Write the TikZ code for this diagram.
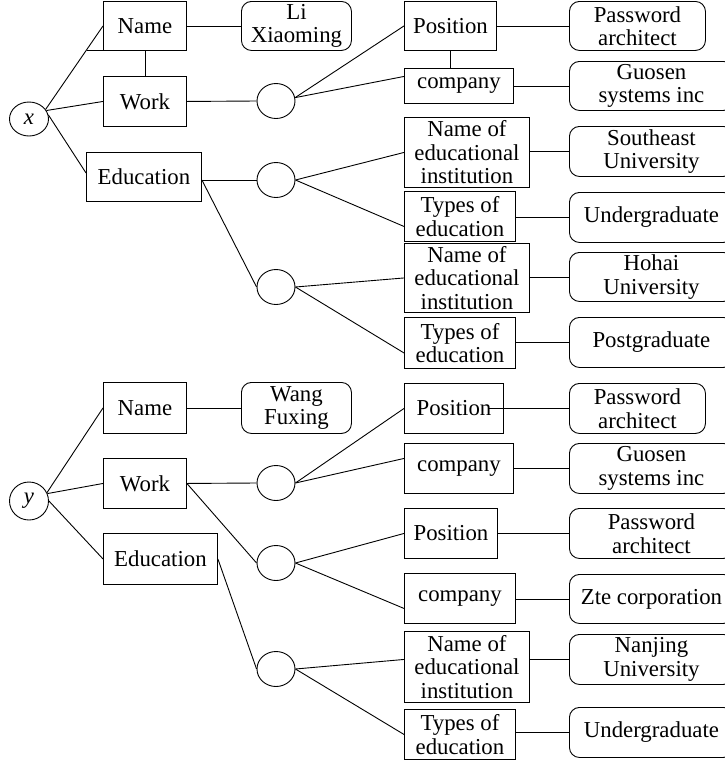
\documentclass[tikz,border=0pt]{standalone}
\usepackage{fontspec}
\setmainfont{Liberation Serif}
\usetikzlibrary{shapes.geometric,calc}
\tikzset{
 base/.style={draw, line width=0.9pt, inner sep=0pt, align=center, anchor=north west, font=\fontsize{22.8}{23.5}\selectfont},
 rbox/.style={base},
 vbox/.style={base, rounded corners=10pt},
 cnode/.style={draw, ellipse, line width=0.9pt, inner sep=0pt, minimum width=38pt, minimum height=35pt, font=\fontsize{22.8}{23.5}\selectfont\itshape},
 ln/.style={line width=0.9pt}
}
\begin{document}
\begin{tikzpicture}[x=1pt,y=-1pt]
\useasboundingbox (0,0) rectangle (725,764);
% ---------- top tree ----------
\node[cnode, minimum width=39pt, minimum height=34pt] (xc) at (29,119) {x};
\node[rbox, minimum width=83pt, minimum height=49pt] (nm1) at (103,1) {Name};
\node[vbox, minimum width=110pt, minimum height=49pt] (lix) at (241,1) {Li\\Xiaoming};
\node[rbox, minimum width=83pt, minimum height=50pt] (wk1) at (103,76) {Work};
\node[rbox, minimum width=115pt, minimum height=49pt] (ed1) at (86,152) {Education};
\node[cnode] (c1) at (276,101) {};
\node[cnode] (c2) at (276,180) {};
\node[cnode] (c3) at (276,287) {};
\node[rbox, minimum width=92pt, minimum height=49pt] (pos1) at (404,1) {Position};
\node[vbox, minimum width=136pt, minimum height=49pt] (pa1) at (569,1) {Password\\architect};
\node[rbox, minimum width=109pt, minimum height=35pt] (cp1) at (404,68) {company};
\node[vbox, minimum width=164pt, minimum height=49pt] (guo1) at (569,61) {Guosen\\systems inc};
\node[rbox, minimum width=125pt, minimum height=70pt] (ne1) at (404,117) {Name of\\educational\\institution};
\node[vbox, minimum width=164pt, minimum height=50pt] (seu) at (569,126) {Southeast\\University};
\node[rbox, minimum width=111pt, minimum height=50pt] (ty1) at (404,191) {Types of\\education};
\node[vbox, minimum width=164pt, minimum height=50pt] (ug1) at (569,192) {Undergraduate};
\node[rbox, minimum width=125pt, minimum height=69pt] (ne2) at (404,243) {Name of\\educational\\institution};
\node[vbox, minimum width=164pt, minimum height=49pt] (hoh) at (569,252) {Hohai\\University};
\node[rbox, minimum width=111pt, minimum height=51pt] (ty2) at (404,317) {Types of\\education};
\node[vbox, minimum width=164pt, minimum height=50pt] (pg) at (569,317) {Postgraduate};
% connectors top
\draw[ln] (xc.30) -- (nm1.west);
\draw[ln] (nm1.south west) -- ++(-16,0);
\draw[ln] (nm1.south) -- (wk1.north);
\draw[ln] (xc.26) -- (wk1.west);
\draw[ln] (xc.12) -- ([yshift=4pt]ed1.west);
\draw[ln] (nm1.east) -- (lix.west);
\draw[ln] (wk1.east) -- (c1.west);
\coordinate (e1) at (ed1.east |- c2.west);
\draw[ln] (e1) -- (c2.west);
\draw[ln] (e1) -- (c3.west);
\draw[ln] (c1.10) -- (pos1.west);
\draw[ln] (c1.10) -- ([yshift=9.5pt]cp1.west);
\draw[ln] (pos1.south) -- (pos1.south |- cp1.north);
\draw[ln] (c2.east) -- (ne1.west);
\draw[ln] (c2.east) -- ([yshift=-10pt]ty1.west);
\draw[ln] (c3.east) -- (ne2.west);
\draw[ln] (c3.east) -- ([yshift=-10pt]ty2.west);
\draw[ln] (pos1.east |- pa1.west) -- (pa1.west);
\draw[ln] (cp1.east |- guo1.west) -- (guo1.west);
\draw[ln] (ne1.east |- seu.west) -- (seu.west);
\draw[ln] (ty1.east |- ug1.west) -- (ug1.west);
\draw[ln] (ne2.east |- hoh.west) -- (hoh.west);
\draw[ln] (ty2.east |- pg.west) -- (pg.west);
% ---------- bottom tree ----------
\node[cnode, minimum width=39pt, minimum height=38pt] (yc) at (29,501) {y};
\node[rbox, minimum width=83pt, minimum height=51pt] (nm2) at (103,382) {Name};
\node[vbox, minimum width=110pt, minimum height=51pt] (wang) at (241,382) {Wang\\Fuxing};
\node[rbox, minimum width=83pt, minimum height=50pt] (wk2) at (103,458) {Work};
\node[rbox, minimum width=114pt, minimum height=51pt] (ed2) at (103,533) {Education};
\node[cnode] (c4) at (276,483) {};
\node[cnode] (c5) at (276,563) {};
\node[cnode] (c6) at (276,669) {};
\node[rbox, minimum width=99pt, minimum height=50pt] (pos3) at (404,383) {Position};
\node[vbox, minimum width=136pt, minimum height=50pt] (pa2) at (569,383) {Password\\architect};
\node[rbox, minimum width=109pt, minimum height=50pt] (cp2) at (404,443) {company};
\node[vbox, minimum width=164pt, minimum height=50pt] (guo2) at (569,443) {Guosen\\systems inc};
\node[rbox, minimum width=93pt, minimum height=50pt] (pos4) at (404,508) {Position};
\node[vbox, minimum width=164pt, minimum height=50pt] (pa3) at (569,508) {Password\\architect};
\node[rbox, minimum width=111pt, minimum height=50pt] (cp3) at (404,573) {company};
\node[vbox, minimum width=164pt, minimum height=49pt] (zte) at (569,574) {Zte corporation};
\node[rbox, minimum width=125pt, minimum height=71pt] (ne3) at (404,631) {Name of\\educational\\institution};
\node[vbox, minimum width=164pt, minimum height=50pt] (nj) at (569,634) {Nanjing\\University};
\node[rbox, minimum width=111pt, minimum height=50pt] (ty3) at (404,709) {Types of\\education};
\node[vbox, minimum width=164pt, minimum height=50pt] (ug2) at (569,707) {Undergraduate};
% connectors bottom
\draw[ln] (yc.25) -- (nm2.west);
\draw[ln] (yc.22) -- (wk2.west);
\draw[ln] (yc.east) -- (ed2.west);
\draw[ln] (nm2.east) -- (wang.west);
\draw[ln] (wk2.east) -- (c4.west);
\draw[ln] (wk2.east) -- (c5.west);
\draw[ln] (ed2.east) -- (c6.west);
\draw[ln] (c4.east) -- (pos3.west);
\draw[ln] (c4.east) -- ([yshift=10pt]cp2.west);
\draw[ln] (c5.east) -- (pos4.west);
\draw[ln] (c5.east) -- ([yshift=-10pt]cp3.west);
\draw[ln] (c6.east) -- ([yshift=7.5pt]ne3.west);
\draw[ln] (c6.east) -- (ty3.west);
\coordinate (p3e) at ([xshift=-15pt]pos3.east);
\draw[ln] (p3e |- pa2.west) -- (pa2.west);
\draw[ln] (cp2.east |- guo2.west) -- (guo2.west);
\draw[ln] (pos4.east |- pa3.west) -- (pa3.west);
\draw[ln] (cp3.east |- zte.west) -- (zte.west);
\draw[ln] (ne3.east |- nj.west) -- (nj.west);
\draw[ln] (ty3.east |- ug2.west) -- (ug2.west);
\end{tikzpicture}
\end{document}
